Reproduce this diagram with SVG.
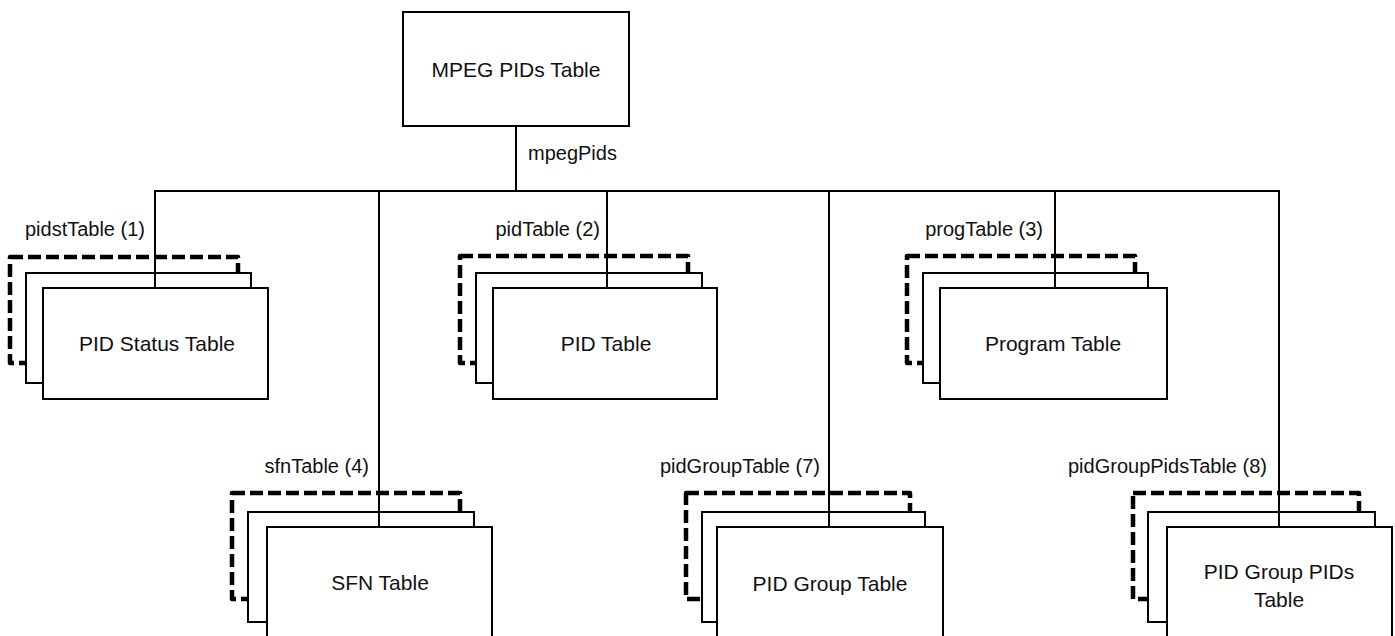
<svg xmlns="http://www.w3.org/2000/svg" width="1395" height="636" viewBox="0 0 1395 636">
<style>
.box{fill:#fff;stroke:#000;stroke-width:2}
.dash{fill:none;stroke:#000;stroke-width:4.5;stroke-dasharray:13 5;stroke-linejoin:round}
.ln{stroke:#000;stroke-width:2;fill:none}
text{font-family:"Liberation Sans",Arial,sans-serif;font-size:20px;fill:#111}
.t{font-size:21px}
.c{text-anchor:middle}
.e{text-anchor:end}
</style>
<rect width="1395" height="636" fill="#fff"/>
<g id="connectors">
<line class="ln" x1="516" y1="126" x2="516" y2="191"/>
<line class="ln" x1="154" y1="191" x2="1280" y2="191"/>
<line class="ln" x1="155" y1="191" x2="155" y2="288"/>
<line class="ln" x1="379" y1="191" x2="379" y2="527"/>
<line class="ln" x1="607" y1="191" x2="607" y2="288"/>
<line class="ln" x1="829" y1="191" x2="829" y2="527"/>
<line class="ln" x1="1055" y1="191" x2="1055" y2="288"/>
<line class="ln" x1="1279" y1="191" x2="1279" y2="527"/>
<text x="528" y="160">mpegPids</text>
<text class="e" x="145" y="236">pidstTable (1)</text>
<text class="e" x="600" y="236">pidTable (2)</text>
<text class="e" x="1043" y="236">progTable (3)</text>
<text class="e" x="369" y="473">sfnTable (4)</text>
<text class="e" x="820" y="473">pidGroupTable (7)</text>
<text class="e" x="1267" y="473">pidGroupPidsTable (8)</text>
</g>
<g id="mpeg">
<rect class="box" x="403" y="12" width="226" height="114"/>
<text class="c t" x="516" y="77">MPEG PIDs Table</text>
</g>
<g id="pidstatus">
<rect class="dash" x="10" y="257" width="228" height="106"/>
<rect class="box" x="26" y="273" width="225" height="110"/>
<rect class="box" x="43" y="288" width="225" height="111"/>
<line class="ln" x1="155" y1="273" x2="155" y2="288"/>
<text class="c t" x="157" y="351">PID Status Table</text>
</g>
<g id="pid">
<rect class="dash" x="460" y="256" width="228" height="107"/>
<rect class="box" x="476" y="273" width="226" height="110"/>
<rect class="box" x="493" y="288" width="224" height="111"/>
<line class="ln" x1="607" y1="273" x2="607" y2="288"/>
<text class="c t" x="606" y="351">PID Table</text>
</g>
<g id="program">
<rect class="dash" x="907" y="256" width="228" height="107"/>
<rect class="box" x="923" y="273" width="225" height="110"/>
<rect class="box" x="940" y="288" width="227" height="111"/>
<line class="ln" x1="1055" y1="273" x2="1055" y2="288"/>
<text class="c t" x="1053" y="351">Program Table</text>
</g>
<g id="sfn">
<rect class="dash" x="232" y="493" width="228" height="106"/>
<rect class="box" x="248" y="512" width="226" height="110"/>
<rect class="box" x="267" y="527" width="225" height="120"/>
<line class="ln" x1="379" y1="512" x2="379" y2="527"/>
<text class="c t" x="380" y="590">SFN Table</text>
</g>
<g id="pidgroup">
<rect class="dash" x="686" y="493" width="224" height="106"/>
<rect class="box" x="702" y="512" width="223" height="110"/>
<rect class="box" x="717" y="527" width="226" height="120"/>
<line class="ln" x1="829" y1="512" x2="829" y2="527"/>
<text class="c t" x="830" y="591">PID Group Table</text>
</g>
<g id="pidgrouppids">
<rect class="dash" x="1133" y="493" width="226" height="106"/>
<rect class="box" x="1148" y="512" width="227" height="110"/>
<rect class="box" x="1167" y="527" width="225" height="120"/>
<line class="ln" x1="1279" y1="512" x2="1279" y2="527"/>
<text class="c t" x="1279" y="579">PID Group PIDs</text>
<text class="c t" x="1279" y="607">Table</text>
</g>
</svg>
